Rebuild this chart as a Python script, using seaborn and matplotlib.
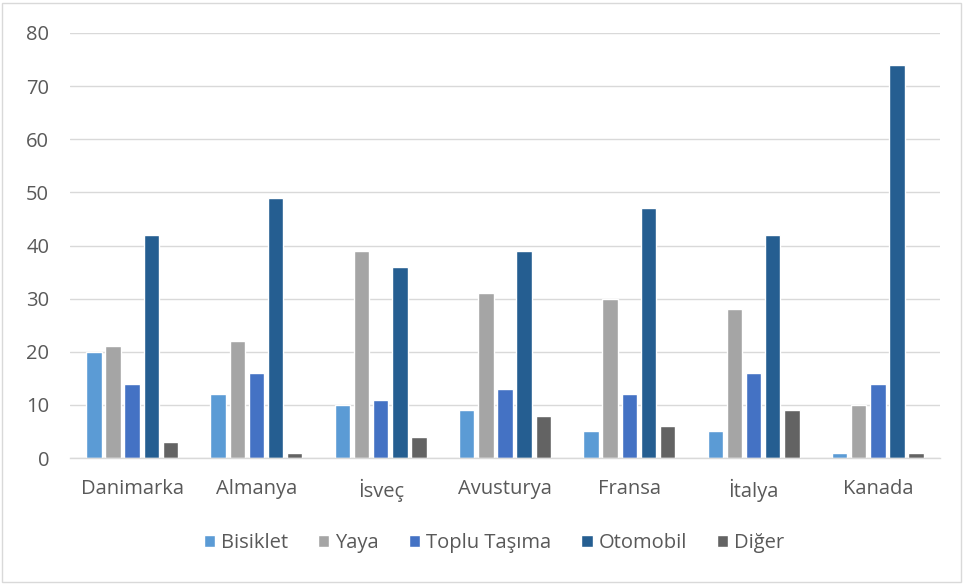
import matplotlib
matplotlib.use("Agg")
import matplotlib.pyplot as plt
import seaborn as sns
import pandas as pd
from matplotlib.patches import Rectangle

countries = ["Danimarka", "Almanya", "İsveç", "Avusturya", "Fransa", "İtalya", "Kanada"]
series = ["Bisiklet", "Yaya", "Toplu Taşıma", "Otomobil", "Diğer"]
bisiklet = [20, 12, 10, 9, 5, 5, 1]
yaya = [21, 22, 39, 31, 30, 28, 10]
toplu = [14, 16, 11, 13, 12, 16, 14]
otomobil = [42, 49, 36, 39, 47, 42, 74]
diger = [3, 1, 4, 8, 6, 9, 1]
colors = ["#5B9BD5", "#A5A5A5", "#4472C4", "#255E91", "#636363"]

rows = []
for s, vals in zip(series, [bisiklet, yaya, toplu, otomobil, diger]):
    for c, v in zip(countries, vals):
        rows.append({"Ülke": c, "Tür": s, "Değer": v})
df = pd.DataFrame(rows)

sns.set_theme(style="white")
plt.rcParams["font.family"] = ["Open Sans", "DejaVu Sans"]

fig = plt.figure(figsize=(9.64, 5.84), dpi=100)
ax = fig.add_axes([70/964, 1-458/584, 870/964, 425/584])

sns.barplot(data=df, x="Ülke", y="Değer", hue="Tür", order=countries, hue_order=series,
            palette=colors, width=0.77, gap=0.2, ax=ax, legend=True, saturation=1)

ax.set_ylim(0, 80)
ax.set_yticks(range(0, 81, 10))
ax.yaxis.grid(True, color="#D9D9D9", linewidth=1)
ax.set_axisbelow(True)
for side in ["top", "right", "left"]:
    ax.spines[side].set_visible(False)
ax.spines["bottom"].set_color("#D9D9D9")
ax.spines["bottom"].set_linewidth(1)
ax.tick_params(axis="both", length=0, colors="#595959", labelsize=14.5)
ax.tick_params(axis="x", pad=15)
ax.tick_params(axis="y", pad=15)
ax.set_xlabel("")
ax.set_ylabel("")
ax.set_xlim(-0.5, len(countries) - 0.5)

leg = ax.legend(loc="center", bbox_to_anchor=((494 - 70) / 870, (458 - 543) / 425), ncol=5,
                frameon=False, fontsize=14.5, handlelength=0.55, handleheight=0.55,
                handletextpad=0.3, columnspacing=1.5, labelcolor="#595959")

fig.patches.append(Rectangle((2/964, 2/584), 959/964, 579/584, transform=fig.transFigure,
                             fill=False, edgecolor="#D9D9D9", linewidth=1))

fig.savefig("out.png", dpi=100)
